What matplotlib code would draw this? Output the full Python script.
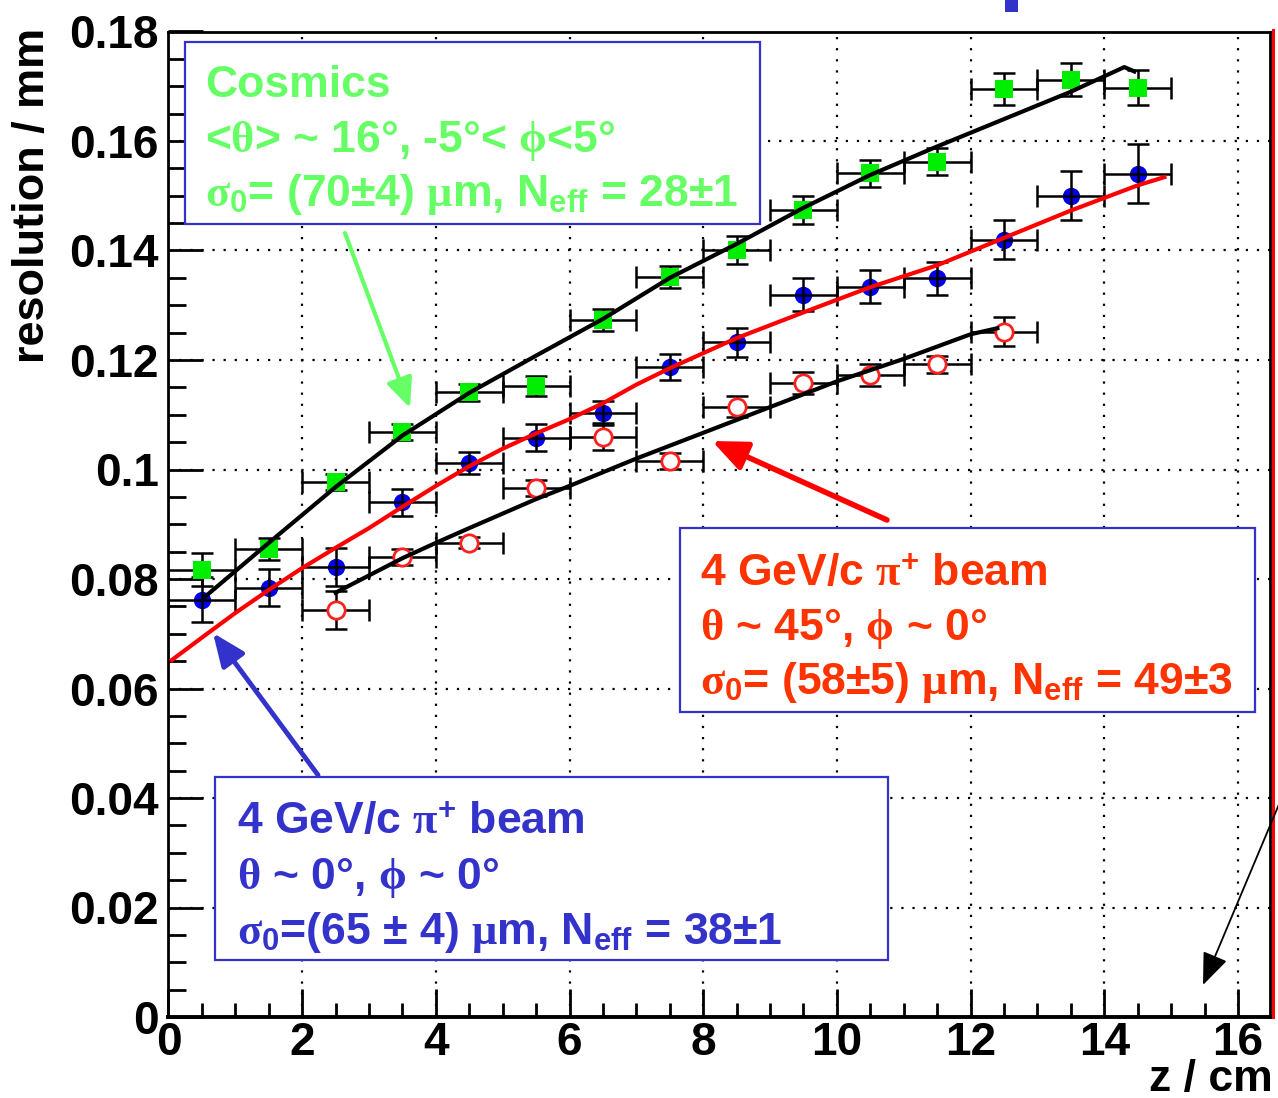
import matplotlib
matplotlib.use("Agg")
import matplotlib.pyplot as plt
from matplotlib.patches import Rectangle, FancyArrowPatch
from matplotlib.lines import Line2D
from matplotlib.ticker import MultipleLocator, FuncFormatter

plt.rcParams['font.family'] = ['Liberation Sans', 'DejaVu Sans']
plt.rcParams['font.weight'] = 'bold'
plt.rcParams['mathtext.fontset'] = 'custom'
plt.rcParams['mathtext.rm'] = 'Liberation Serif'
plt.rcParams['mathtext.it'] = 'Liberation Serif:italic'
plt.rcParams['mathtext.bf'] = 'Liberation Sans:bold'

W, H = 1278, 1098

# ---------------- data ----------------
z = [0.5, 1.5, 2.5, 3.5, 4.5, 5.5, 6.5, 7.5, 8.5, 9.5, 10.5, 11.5, 12.5, 13.5, 14.5]
z_halfwidth = 0.5

cosmics = [0.0817, 0.0855, 0.0977, 0.1069, 0.1141, 0.1152, 0.1273, 0.1351, 0.1401,
           0.1474, 0.1541, 0.1562, 0.1695, 0.1712, 0.1697]
cosmics_err = [0.0030, 0.0020, 0.0015, 0.0015, 0.0015, 0.0018, 0.0020, 0.0020, 0.0025,
               0.0025, 0.0025, 0.0025, 0.0030, 0.0030, 0.0032]

beam0 = [0.0762, 0.0784, 0.0822, 0.0940, 0.1012, 0.1058, 0.1103, 0.1187, 0.1232,
         0.1319, 0.1334, 0.1349, 0.1420, 0.1500, 0.1540]
beam0_err = [0.0041, 0.0034, 0.0035, 0.0025, 0.0020, 0.0025, 0.0022, 0.0024, 0.0026,
             0.0030, 0.0030, 0.0030, 0.0035, 0.0045, 0.0054]

z45 = [2.5, 3.5, 4.5, 5.5, 6.5, 7.5, 8.5, 9.5, 10.5, 11.5, 12.5]
beam45 = [0.0743, 0.0840, 0.0866, 0.0966, 0.1060, 0.1016, 0.1115, 0.1158, 0.1172, 0.1192, 0.1252]
beam45_err = [0.0035, 0.0015, 0.0010, 0.0015, 0.0025, 0.0015, 0.0020, 0.0020, 0.0020, 0.0015, 0.0027]

fit_cos_z = [0.55, 1.5, 2.5, 3.5, 4.5, 5.5, 6.5, 7.5, 8.5, 9.5, 10.5, 11.5, 12.5, 13.5, 14.3, 14.45]
fit_cos = [0.0768, 0.0866, 0.0968, 0.1062, 0.1140, 0.1208, 0.1275, 0.1350, 0.1412,
           0.1478, 0.1538, 0.1590, 0.1640, 0.1690, 0.1735, 0.1727]

fit_b0_z = [0.05, 0.5, 1.0, 1.5, 2.0, 2.5, 3.0, 3.5, 4.0, 4.5, 5.0, 5.5, 6.0, 6.5, 7.0,
            7.5, 8.5, 9.5, 10.5, 11.5, 12.5, 13.5, 14.5, 14.9]
fit_b0 = [0.0652, 0.0693, 0.0738, 0.0780, 0.0820, 0.0857, 0.0893, 0.0932, 0.0970, 0.1006,
          0.1038, 0.1066, 0.1092, 0.1121, 0.1155, 0.1185, 0.1240, 0.1287, 0.1333, 0.1373,
          0.1423, 0.1473, 0.1519, 0.1534]

fit_b45_z = [2.5, 3.5, 4.0, 4.5, 5.5, 6.0, 7.0, 8.0, 9.0, 10.0, 11.0, 12.0, 12.4]
fit_b45 = [0.0775, 0.0838, 0.0866, 0.0893, 0.0946, 0.0970, 0.1020, 0.1067, 0.1114,
           0.1161, 0.1202, 0.1247, 0.1258]

x_label = "z / cm"
y_label = "resolution / mm"

GREEN_TXT = '#66ff66'
RED_TXT = '#ff3300'
BLUE_TXT = '#3333cc'


def P(px, py):
    return (px / W, 1 - py / H)


fig = plt.figure(figsize=(W / 100, H / 100), dpi=100)
left, right, bottom, top = 168.5, 1270, 1017, 31.5
ax = fig.add_axes([left / W, 1 - bottom / H, (right - left) / W, (bottom - top) / H])
ax.set_xlim(0, (right - left) / 66.84)
ax.set_ylim(0, 0.18)

# grid
ax.grid(True, which='major', color='black', linestyle=(0, (1, 4)), linewidth=1.6, zorder=0)
ax.set_axisbelow(True)

# error bars
for xs, ys, es in [(z, cosmics, cosmics_err), (z, beam0, beam0_err), (z45, beam45, beam45_err)]:
    ax.errorbar(xs, ys, yerr=es, xerr=z_halfwidth, fmt='none', ecolor='black',
                elinewidth=1.8, capsize=8, capthick=1.8, zorder=3)

# markers
ax.plot(z, cosmics, linestyle='none', marker='s', markersize=13.5, color='#00ee00',
        markeredgewidth=0, zorder=3.5)
ax.plot(z, beam0, linestyle='none', marker='o', markersize=12.5, color='#0000ee',
        markeredgewidth=0, zorder=2)
ax.plot(z45, beam45, linestyle='none', marker='o', markersize=12.5, markerfacecolor='white',
        markeredgecolor='#ff2020', markeredgewidth=2, zorder=3.5)

# fit curves
ax.plot(fit_cos_z, fit_cos, color='black', linewidth=3, zorder=4)
ax.plot(fit_b0_z, fit_b0, color='#ff0000', linewidth=3, zorder=4)
ax.plot(fit_b45_z, fit_b45, color='black', linewidth=3, zorder=4)

# axes style
ax.xaxis.set_major_locator(MultipleLocator(2))
ax.xaxis.set_minor_locator(MultipleLocator(0.5))
ax.yaxis.set_major_locator(MultipleLocator(0.02))
ax.yaxis.set_minor_locator(MultipleLocator(0.005))
fmt = FuncFormatter(lambda v, p: '%g' % round(v, 4))
ax.xaxis.set_major_formatter(fmt)
ax.yaxis.set_major_formatter(fmt)
ax.tick_params(axis='both', which='both', direction='in', width=2, colors='black')
ax.tick_params(axis='x', which='major', length=20, pad=3, labelsize=33)
ax.tick_params(axis='x', which='minor', length=10)
ax.tick_params(axis='y', which='major', length=25, pad=7, labelsize=33)
ax.tick_params(axis='y', which='minor', length=13)
for lab in ax.get_xticklabels() + ax.get_yticklabels():
    lab.set_fontweight('bold')
for s in ax.spines.values():
    s.set_linewidth(2)
ax.spines['bottom'].set_linewidth(2.8)

# red vertical line at the right edge
fig.add_artist(Line2D([1272.5 / W, 1272.5 / W], [1 - 1017 / H, 1 - 30 / H],
                      color='#ff0000', linewidth=2.2, transform=fig.transFigure, zorder=5))

# axis titles
fig.text(33 / W, 1 - 28 / H, y_label, rotation=90, ha='center', va='top',
         fontsize=32.5, fontweight='bold')
fig.text(1273 / W, 1 - 1091 / H, x_label, ha='right', va='baseline',
         fontsize=32, fontweight='bold')

# boxes
def box(x0, y0, x1, y1):
    fig.add_artist(Rectangle(P(x0, y1), (x1 - x0) / W, (y1 - y0) / H, transform=fig.transFigure,
                             facecolor='white', edgecolor=BLUE_TXT, linewidth=1.6, zorder=6))

box(185, 42, 760, 224)
box(680, 528, 1255, 712)
box(215, 777, 888, 960)

TS = 32
def line(px, py, s, c):
    fig.text(*P(px, py), s, color=c, fontsize=TS, fontweight='bold', ha='left', va='baseline',
             zorder=7)

line(205, 97, "Cosmics", GREEN_TXT)
line(205, 152, r"<$\mathrm{\theta}$> ~ 16°, -5°< $\mathrm{\phi}$<5°", GREEN_TXT)
line(205, 206, r"$\mathrm{\sigma}_\mathregular{0}$= (70±4) $\mathrm{\mu}$m, N$_\mathregular{eff}$ = 28±1", GREEN_TXT)

line(700, 586, r"4 GeV/c $\mathrm{\pi}^\mathregular{+}$ beam", RED_TXT)
line(700, 640, r"$\mathrm{\theta}$ ~ 45°, $\mathrm{\phi}$ ~ 0°", RED_TXT)
line(700, 694, r"$\mathrm{\sigma}_\mathregular{0}$= (58±5) $\mathrm{\mu}$m, N$_\mathregular{eff}$ = 49±3", RED_TXT)

line(237, 834, r"4 GeV/c $\mathrm{\pi}^\mathregular{+}$ beam", BLUE_TXT)
line(237, 889, r"$\mathrm{\theta}$ ~ 0°, $\mathrm{\phi}$ ~ 0°", BLUE_TXT)
line(237, 944, r"$\mathrm{\sigma}_\mathregular{0}$=(65 ± 4) $\mathrm{\mu}$m, N$_\mathregular{eff}$ = 38±1", BLUE_TXT)

# arrows
def arrow(tail, head, color, lw, hl, hw):
    fig.add_artist(FancyArrowPatch(P(*tail), P(*head), transform=fig.transFigure,
                                   arrowstyle='-|>,head_length=%g,head_width=%g' % (hl, hw),
                                   mutation_scale=20, color=color, linewidth=lw,
                                   shrinkA=0, shrinkB=0, zorder=8))

arrow((345, 233), (410, 408), GREEN_TXT, 3, 0.9, 0.4)
arrow((887, 520), (712, 441), '#ff0000', 4, 1.05, 0.45)
arrow((318, 775), (213, 633), BLUE_TXT, 3.5, 1.0, 0.42)
arrow((1285, 790), (1203, 985), 'black', 1.3, 1.0, 0.4)

# fragment of cut-off title at top
fig.add_artist(Rectangle(P(1005, 12), 13 / W, 12 / H, transform=fig.transFigure,
                         facecolor=BLUE_TXT, edgecolor='none', zorder=6))

fig.savefig('out.png', dpi=100)
